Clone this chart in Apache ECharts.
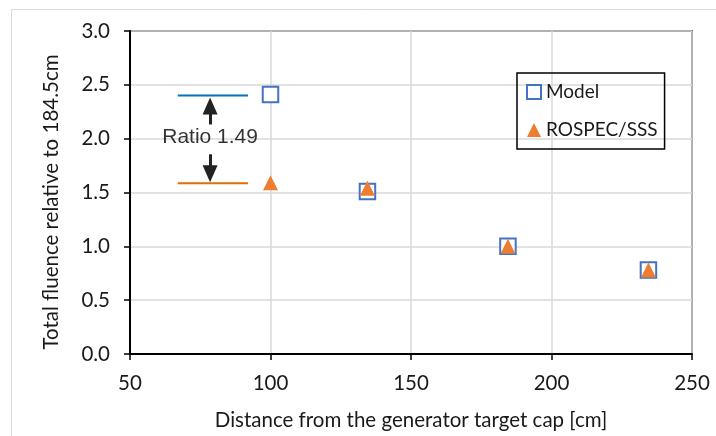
<!DOCTYPE html>
<html>
<head>
<meta charset="utf-8">
<script src="https://cdn.jsdelivr.net/npm/echarts@6/dist/echarts.min.js"></script>
<style>
html,body{margin:0;padding:0;background:#fff;}
#chart{width:716px;height:436px;}
</style>
</head>
<body>
<div id="chart"></div>
<script>
// ---- data ----
const distances = [100, 134.5, 184.5, 234.5];
const modelValues = [2.41, 1.51, 1.00, 0.78];
const rospecValues = [1.59, 1.54, 1.00, 0.78];
const seriesNames = ['Model', 'ROSPEC/SSS'];
const xTicks = [50, 100, 150, 200, 250];
const yTicks = [0.0, 0.5, 1.0, 1.5, 2.0, 2.5, 3.0];
// annotation (data coordinates)
const ratioLineX = [67, 92];
const ratioModelY = 2.40;
const ratioRospecY = 1.585;
const arrowX = 78.5;
const arrowUp = [2.132, 2.303];
const arrowDown = [1.855, 1.673];
const ratioLabel = 'Ratio 1.49';
const ratioLabelPos = [78.5, 2.012];
const xTitle = 'Distance from the generator target cap [cm]';
const yTitle = 'Total fluence relative to 184.5cm';

const FONT = 'Lato';
const FS = 20.5;
const TXT = '#1a1a1a';
const blue = '#4472C4', orange = '#ED7D31';

const chart = echarts.init(document.getElementById('chart'), null, {renderer:'canvas'});
const option = {
  animation: false,
  backgroundColor: '#fff',
  grid: {left:130, right:24, top:31, bottom:80, show:true, borderColor:'#000', borderWidth:1.5, backgroundColor:'transparent'},
  xAxis: {
    type:'value', min:xTicks[0], max:xTicks[xTicks.length-1], interval:50,
    name: xTitle, nameLocation:'middle', nameGap:56,
    nameTextStyle:{fontFamily:FONT, fontSize:FS, color:TXT},
    axisLine:{show:true, onZero:false, lineStyle:{color:'#000', width:2}},
    axisTick:{show:true, length:6, lineStyle:{color:'#000', width:1.5}},
    axisLabel:{fontFamily:FONT, fontSize:FS, color:TXT, margin:19},
    splitLine:{show:true, lineStyle:{color:'#d9d9d9', width:1.5}}
  },
  yAxis: {
    type:'value', min:yTicks[0], max:yTicks[yTicks.length-1], interval:0.5,
    axisLine:{show:true, onZero:false, lineStyle:{color:'#000', width:2}},
    axisTick:{show:true, length:6, lineStyle:{color:'#000', width:1.5}},
    axisLabel:{fontFamily:FONT, fontSize:FS, color:TXT, margin:20, formatter:v=>v.toFixed(1)},
    splitLine:{show:true, lineStyle:{color:'#d9d9d9', width:1.5}}
  },
  legend: {
    orient:'vertical', left:517, top:73,
    padding:[7, 7, 7, 9],
    itemWidth:14, itemHeight:14, itemGap:14,
    borderColor:'#000', borderWidth:1.5, borderRadius:0,
    textStyle:{fontFamily:FONT, fontSize:19, color:TXT, lineHeight:24},
    data:[
      {name:seriesNames[0], icon:'rect', itemStyle:{color:'#fff', borderColor:blue, borderWidth:2}},
      {name:seriesNames[1], icon:'triangle', itemStyle:{color:orange}}
    ]
  },
  graphic: [
    {type:'rect', shape:{x:11.5, y:9.5, width:760, height:460}, style:{fill:'none', stroke:'#d9d9d9', lineWidth:1}, silent:true, z:-10},
    {type:'text', x:51, y:202, rotation:Math.PI/2, style:{text:yTitle, fontFamily:FONT, fontSize:FS, fill:TXT, textAlign:'center', textVerticalAlign:'middle'}}
  ],
  series: [
    {
      name:seriesNames[0], type:'scatter', symbol:'rect', symbolSize:15.5,
      itemStyle:{color:'#fff', borderColor:blue, borderWidth:2, opacity:1},
      data: distances.map((d,i)=>[d, modelValues[i]]), z:3
    },
    {
      name:seriesNames[1], type:'scatter', symbol:'triangle', symbolSize:[15,15],
      itemStyle:{color:orange, opacity:1},
      data: distances.map((d,i)=>[d, rospecValues[i]]), z:4
    },
    {
      name:'ratioModel', type:'line', symbol:'none', silent:true,
      lineStyle:{color:'#0070C0', width:2},
      data: ratioLineX.map(x=>[x, ratioModelY])
    },
    {
      name:'ratioRospec', type:'line', symbol:'none', silent:true,
      lineStyle:{color:'#E46C0A', width:2},
      data: ratioLineX.map(x=>[x, ratioRospecY]),
      markLine:{
        silent:true, symbol:['none','triangle'], symbolSize:[15,17],
        label:{show:false},
        lineStyle:{color:'#222', width:3, type:'solid'},
        emphasis:{disabled:true},
        data:[
          [{coord:[arrowX, arrowUp[0]]},{coord:[arrowX, arrowUp[1]]}],
          [{coord:[arrowX, arrowDown[0]]},{coord:[arrowX, arrowDown[1]]}]
        ]
      }
    },
    {
      name:'ratioText', type:'scatter', symbolSize:1, silent:true,
      itemStyle:{color:'rgba(0,0,0,0)'},
      label:{show:true, position:'inside', formatter:ratioLabel, fontFamily:'Liberation Sans', fontSize:21, color:'#000'},
      data:[ratioLabelPos]
    }
  ]
};
chart.setOption(option);
</script>
</body>
</html>
